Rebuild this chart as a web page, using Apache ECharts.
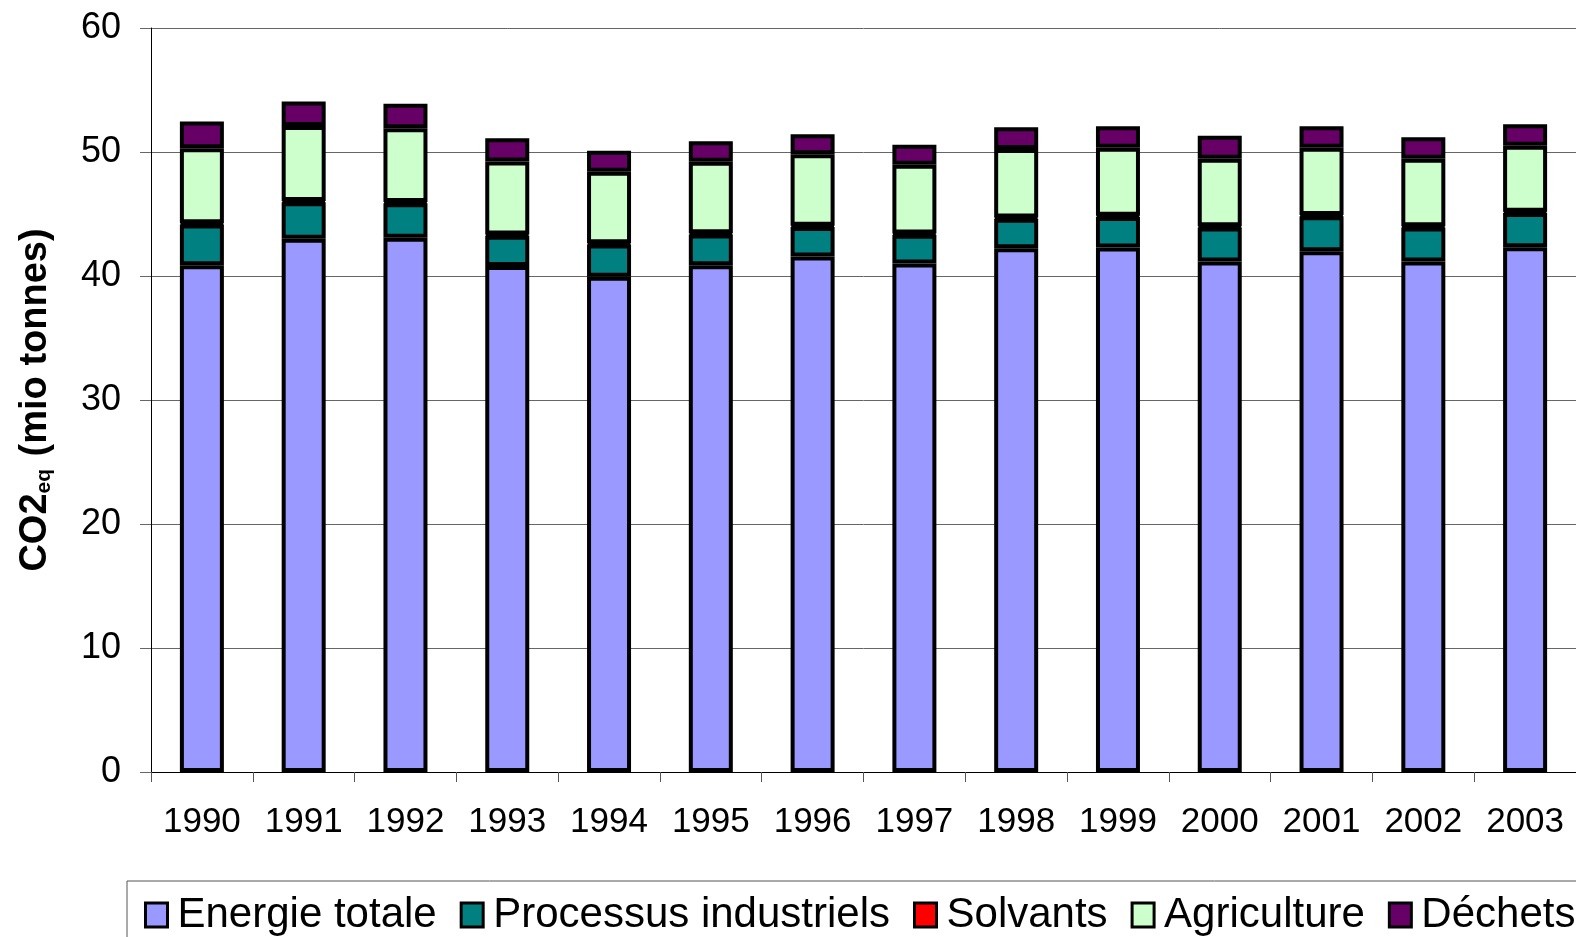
<!DOCTYPE html>
<html>
<head>
<meta charset="utf-8">
<script src="https://cdn.jsdelivr.net/npm/echarts@6/dist/echarts.min.js"></script>
<style>
html,body{margin:0;padding:0;background:#fff;}
#chart{width:1576px;height:937px;}
</style>
</head>
<body>
<div id="chart"></div>
<script>
const years = ['1990','1991','1992','1993','1994','1995','1996','1997','1998','1999','2000','2001','2002','2003'];
const energie = [40.86, 43.0, 43.08, 40.81, 39.94, 40.86, 41.57, 41.0, 42.24, 42.3, 41.16, 42.0, 41.16, 42.32];
const processus = [3.3, 2.95, 2.79, 2.43, 2.6, 2.49, 2.38, 2.32, 2.38, 2.46, 2.76, 2.81, 2.76, 2.76];
const solvants = [0.1, 0.1, 0.1, 0.1, 0.1, 0.1, 0.1, 0.1, 0.1, 0.1, 0.1, 0.1, 0.1, 0.1];
const agriculture = [6.04, 6.05, 5.95, 5.9, 5.77, 5.77, 5.76, 5.55, 5.52, 5.49, 5.44, 5.44, 5.44, 5.33];
const dechets = [2.16, 1.98, 1.97, 1.87, 1.7, 1.64, 1.62, 1.62, 1.76, 1.73, 1.86, 1.73, 1.73, 1.73];
const yTicks = [0, 10, 20, 30, 40, 50, 60];

const seriesDefs = [
  {name: 'Energie totale', data: energie, color: '#9999FF'},
  {name: 'Processus industriels', data: processus, color: '#008080'},
  {name: 'Solvants', data: solvants, color: '#FF0000'},
  {name: 'Agriculture', data: agriculture, color: '#CCFFCC'},
  {name: 'Déchets', data: dechets, color: '#660066'}
];

const FONT = '"Liberation Sans", Arial, sans-serif';
const chart = echarts.init(document.getElementById('chart'), null, {renderer: 'canvas'});
chart.setOption({
  animation: false,
  backgroundColor: '#ffffff',
  textStyle: {fontFamily: FONT},
  grid: {left: 151, top: 28, height: 744, width: 1438, containLabel: false},
  legend: {
    left: 127, top: 881, width: 1700,
    orient: 'horizontal',
    padding: [13, 20, 10, 17],
    borderColor: '#555', borderWidth: 1,
    itemWidth: 22, itemHeight: 24, itemGap: 23,
    icon: 'rect',
    textStyle: {fontSize: 42, color: '#000', fontFamily: FONT, padding: [0, 0, 0, 5]},
    itemStyle: {borderColor: '#000', borderWidth: 3},
    data: seriesDefs.map(s => s.name)
  },
  xAxis: {
    type: 'category',
    data: years,
    boundaryGap: true,
    axisLine: {lineStyle: {color: '#000', width: 1}},
    axisTick: {show: true, length: 10, lineStyle: {color: '#555'}},
    axisLabel: {fontSize: 35, color: '#000', margin: 33, fontFamily: FONT}
  },
  yAxis: {
    type: 'value',
    min: 0, max: 60, interval: 10,
    name: '{m|CO2}{s|eq}{m| (mio tonnes)}',
    nameLocation: 'middle',
    nameRotate: 90,
    nameGap: 96,
    nameTextStyle: {
      rich: {
        m: {fontSize: 38, fontWeight: 'bold', color: '#000', fontFamily: FONT},
        s: {fontSize: 21, fontWeight: 'bold', color: '#000', fontFamily: FONT, verticalAlign: 'bottom', padding: [17, 2, 0, 0]}
      }
    },
    axisLine: {show: true, lineStyle: {color: '#000', width: 1}},
    axisTick: {show: true, length: 11, lineStyle: {color: '#666'}},
    axisLabel: {fontSize: 36, color: '#000', margin: 30, fontFamily: FONT,
      formatter: v => yTicks.includes(v) ? String(v) : ''},
    splitLine: {show: true, lineStyle: {color: '#666', width: 1}}
  },
  series: seriesDefs.map(s => ({
    name: s.name,
    type: 'bar',
    stack: 'total',
    barWidth: 44,
    data: s.data,
    itemStyle: {color: s.color, borderColor: '#000', borderWidth: 4}
  }))
});
</script>
</body>
</html>
